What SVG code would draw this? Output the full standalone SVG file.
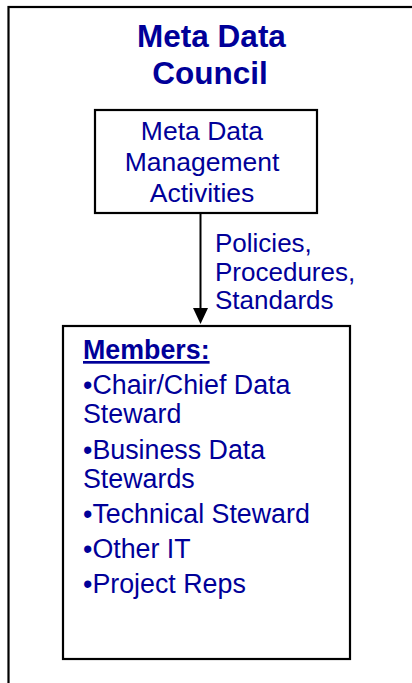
<svg xmlns="http://www.w3.org/2000/svg" width="412" height="683" viewBox="0 0 412 683">
  <style>
    .t { font-family: "Liberation Sans", Arial, sans-serif; fill: #000099; }
    .title { font-size: 31.5px; font-weight: bold; text-anchor: middle; }
    .mid { font-size: 26.5px; text-anchor: middle; }
    .lbl { font-size: 26px; }
    .lst { font-size: 26.8px; }
    .box { fill: #ffffff; stroke: #000000; stroke-width: 2.2; }
    .conn { stroke: #000000; stroke-width: 2; fill: none; }
    .head { fill: #000000; }
  </style>
  <rect width="412" height="683" fill="#ffffff"/>

  <g id="council">
    <rect x="8.5" y="7" width="430" height="700" fill="none" stroke="#000000" stroke-width="2.2"/>
    <text class="t title" x="211.5" y="47">Meta Data</text>
    <text class="t title" x="210" y="84">Council</text>
  </g>

  <g id="activities">
    <rect class="box" x="95" y="110" width="222" height="103"/>
    <text class="t mid" x="202" y="140">Meta Data</text>
    <text class="t mid" x="202" y="171">Management</text>
    <text class="t mid" x="202" y="202">Activities</text>
  </g>

  <g id="members">
    <rect class="box" x="63" y="326" width="287" height="333"/>
    <text class="t lst" x="83" y="359" font-weight="bold" text-decoration="underline">Members:</text>
    <text class="t lst" x="83" y="393.5">•Chair/Chief Data</text>
    <text class="t lst" x="83" y="423">Steward</text>
    <text class="t lst" x="83" y="458.5">•Business Data</text>
    <text class="t lst" x="83" y="488">Stewards</text>
    <text class="t lst" x="83" y="522.5">•Technical Steward</text>
    <text class="t lst" x="83" y="558">•Other IT</text>
    <text class="t lst" x="83" y="592.5">•Project Reps</text>
  </g>

  <g id="connectors">
    <line class="conn" x1="200.5" y1="213" x2="200.5" y2="309"/>
    <path class="head" d="M193,308 L208,308 L200.5,324 Z"/>
    <text class="t lbl" x="215" y="252">Policies,</text>
    <text class="t lbl" x="215" y="280.5">Procedures,</text>
    <text class="t lbl" x="215" y="309">Standards</text>
  </g>
</svg>
